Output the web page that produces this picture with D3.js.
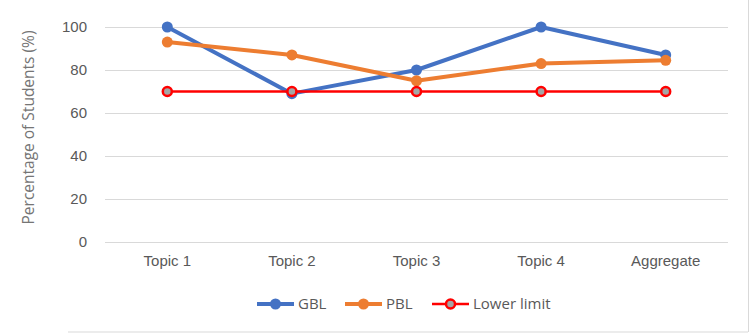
<!DOCTYPE html>
<html>
<head>
<meta charset="utf-8">
<script src="https://cdn.jsdelivr.net/npm/d3@7"></script>
<style>
  body { margin: 0; background: #fff; }
  svg { font-family: "Open Sans", "Noto Sans", sans-serif; }
</style>
</head>
<body>
<div id="chart"></div>
<script>
var width = 750, height = 333;

var categories = ["Topic 1", "Topic 2", "Topic 3", "Topic 4", "Aggregate"];
var gbl = [100, 69, 80, 100, 87];
var pbl = [93, 87, 75, 83, 84.5];
var lowerLimit = [70, 70, 70, 70, 70];
var yTicks = [0, 20, 40, 60, 80, 100];

var series = [
  {name: "GBL", values: gbl, color: "#4472C4", width: 4, r: 5.5, fill: "#4472C4"},
  {name: "PBL", values: pbl, color: "#ED7D31", width: 4, r: 5.5, fill: "#ED7D31"},
  {name: "Lower limit", values: lowerLimit, color: "#FF0000", width: 2.5, r: 4.5, fill: "#A5A5A5"}
];

var margin = {left: 105, right: 22, top: 27, bottom: 91};

var x = d3.scaleBand()
  .domain(categories)
  .range([margin.left, width - margin.right]);

var y = d3.scaleLinear()
  .domain([0, 100])
  .range([height - margin.bottom, margin.top]);

var svg = d3.select("#chart").append("svg")
  .attr("width", width)
  .attr("height", height);

// frame edges visible in the crop
svg.append("line")
  .attr("x1", 68).attr("x2", 748)
  .attr("y1", 332).attr("y2", 332)
  .attr("stroke", "#d9d9d9").attr("stroke-width", 1);
svg.append("line")
  .attr("x1", 748.5).attr("x2", 748.5)
  .attr("y1", 0).attr("y2", 332)
  .attr("stroke", "#d9d9d9").attr("stroke-width", 1);

// gridlines
svg.append("g")
  .selectAll("line")
  .data(yTicks)
  .enter().append("line")
  .attr("x1", margin.left)
  .attr("x2", width - margin.right)
  .attr("y1", d => Math.round(y(d)) + 0.5)
  .attr("y2", d => Math.round(y(d)) + 0.5)
  .attr("stroke", "#d9d9d9")
  .attr("stroke-width", 1);

// y axis labels
var yAxis = d3.axisLeft(y).tickValues(yTicks).tickSize(0).tickPadding(18);
var gy = svg.append("g")
  .attr("transform", "translate(" + margin.left + ",0)")
  .call(yAxis);
gy.select(".domain").remove();
gy.selectAll("text")
  .attr("fill", "#595959")
  .style("font-size", "15px");

// x axis labels
var xAxis = d3.axisBottom(x).tickSize(0).tickPadding(13);
var gx = svg.append("g")
  .attr("transform", "translate(0," + y(0) + ")")
  .call(xAxis);
gx.select(".domain").remove();
gx.selectAll("text")
  .attr("fill", "#595959")
  .style("font-size", "15px");

// y title
svg.append("text")
  .attr("transform", "translate(34," + ((margin.top + y(0)) / 2 - 7) + ") rotate(-90)")
  .attr("text-anchor", "middle")
  .attr("fill", "#757575")
  .style("font-size", "15.5px")
  .text("Percentage of Students (%)");

var line = d3.line()
  .x((d, i) => x(categories[i]) + x.bandwidth() / 2)
  .y(d => y(d));

series.forEach(function(s) {
  var g = svg.append("g");
  g.append("path")
    .datum(s.values)
    .attr("d", line)
    .attr("fill", "none")
    .attr("stroke", s.color)
    .attr("stroke-width", s.width)
    .attr("stroke-linejoin", "round");
  g.selectAll("circle")
    .data(s.values)
    .enter().append("circle")
    .attr("cx", (d, i) => x(categories[i]) + x.bandwidth() / 2)
    .attr("cy", d => y(d))
    .attr("r", s.r)
    .attr("fill", s.fill)
    .attr("stroke", s.name == "Lower limit" ? s.color : "none")
    .attr("stroke-width", 2.5);
});

// legend
var legendX = [257, 345, 432];
var legendY = 304;
var lg = svg.append("g").selectAll("g")
  .data(series)
  .enter().append("g")
  .attr("transform", (d, i) => "translate(" + legendX[i] + "," + legendY + ")");
lg.append("line")
  .attr("x1", 0).attr("x2", 37)
  .attr("stroke", d => d.color)
  .attr("stroke-width", d => d.width);
lg.append("circle")
  .attr("cx", 18.5)
  .attr("r", d => d.r)
  .attr("fill", d => d.fill)
  .attr("stroke", d => d.name == "Lower limit" ? d.color : "none")
  .attr("stroke-width", 2.5);
lg.append("text")
  .attr("x", 41)
  .attr("dy", "0.35em")
  .attr("fill", "#595959")
  .style("font-size", "15px")
  .text(d => d.name);
</script>
</body>
</html>
